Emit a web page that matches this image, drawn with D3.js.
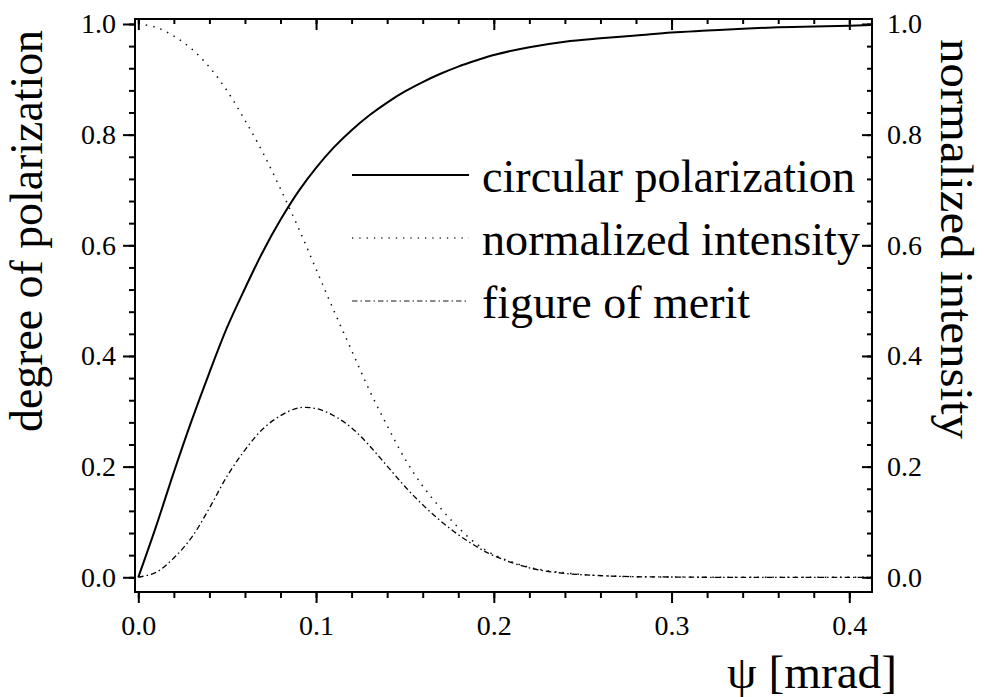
<!DOCTYPE html>
<html>
<head>
<meta charset="utf-8">
<script src="https://cdn.jsdelivr.net/npm/d3@7"></script>
</head>
<body style="margin:0;padding:0;background:#fff">
<svg id="fig" width="984" height="697"></svg>
<script>
// ---- data ----
const psi       = [0,0.01,0.02,0.03,0.04,0.05,0.06,0.07,0.08,0.09,0.10,0.11,0.12,0.13,0.14,0.15,0.16,0.17,0.18,0.19,0.20,0.22,0.24,0.26,0.28,0.30,0.32,0.34,0.36,0.38,0.40,0.412];
const circPol   = [0,0.092,0.19,0.283,0.37,0.452,0.522,0.588,0.646,0.697,0.740,0.777,0.808,0.835,0.858,0.878,0.895,0.910,0.923,0.934,0.944,0.958,0.968,0.974,0.979,0.9845,0.988,0.9915,0.994,0.9955,0.997,0.998];
const intensity = [1.0,0.994,0.978,0.955,0.922,0.879,0.826,0.768,0.702,0.632,0.557,0.482,0.410,0.338,0.274,0.214,0.165,0.125,0.090,0.061,0.041,0.018,0.008,0.003,0.001,0.0005,0,0,0,0,0,0];
const merit     = [0,0.009,0.035,0.072,0.125,0.183,0.230,0.268,0.292,0.306,0.305,0.292,0.270,0.238,0.201,0.164,0.131,0.102,0.077,0.056,0.039,0.017,0.007,0.003,0.001,0.0005,0,0,0,0,0,0];

const xMajor = [0.0,0.1,0.2,0.3,0.4];
const xMajorLabels = ["0.0","0.1","0.2","0.3","0.4"];
const yMajor = [0.0,0.2,0.4,0.6,0.8,1.0];
const yMajorLabels = ["0.0","0.2","0.4","0.6","0.8","1.0"];
const xMinor = d3.range(0, 21).map(i => i * 0.02);
const yMinor = d3.range(0, 26).map(i => i * 0.04);

const seriesNames = ["circular polarization", "normalized intensity", "figure of merit"];
const xTitle = "ψ [mrad]";
const yTitleLeft = "degree of polarization";
const yTitleRight = "normalized intensity";

// ---- layout ----
const L = 135, R = 872, T = 19, B = 592;
const SERIF = '"Liberation Serif"';

const x = d3.scaleLinear().domain([-0.00186, 0.41277]).range([L, R]);
const y = d3.scaleLinear().domain([-0.0266, 1.009]).range([B, T]);

const svg = d3.select("#fig");

// curves
const styles = [
  { w: 2.0, dash: null, color: "#000" },
  { w: 1.5, dash: "1.5,6", color: "#111" },
  { w: 1.3, dash: "5.5,3,1.5,3", color: "#000" }
];
const seriesData = [circPol, intensity, merit];

const line = d3.line()
  .x(d => x(d[0]))
  .y(d => y(d[1]))
  .curve(d3.curveCatmullRom.alpha(0.5));

svg.append("clipPath").attr("id", "clipArea")
  .append("rect").attr("x", L).attr("y", T).attr("width", R - L).attr("height", B - T);

const plot = svg.append("g").attr("clip-path", "url(#clipArea)");
seriesData.forEach((vals, i) => {
  plot.append("path")
    .datum(psi.map((p, j) => [p, vals[j]]))
    .attr("d", line)
    .attr("fill", "none")
    .attr("stroke", styles[i].color)
    .attr("stroke-width", styles[i].w)
    .attr("stroke-dasharray", styles[i].dash)
    .attr("stroke-linejoin", "round");
});

function serif(sel, size) {
  sel.attr("font-family", "Liberation Serif")
     .style("font-family", SERIF, "important")
     .style("font-size", size + "px", "important")
     .attr("fill", "#000");
}

// axes
function styleAxis(g) {
  g.attr("font-family", "Liberation Serif");
  g.select(".domain").remove();
  g.selectAll(".tick line").attr("stroke", "#000").attr("stroke-width", 2);
  g.selectAll(".tick text").call(serif, 28);
}

// bottom
const gB = svg.append("g").attr("transform", `translate(0,${B})`);
gB.append("g").call(d3.axisBottom(x).tickValues(xMinor).tickSize(6).tickFormat("")).call(styleAxis);
gB.append("g").call(d3.axisBottom(x).tickValues(xMajor).tickSize(11)
  .tickFormat((d, i) => xMajorLabels[i]).tickPadding(12)).call(styleAxis);

// top (inward)
const gT = svg.append("g").attr("transform", `translate(0,${T})`);
gT.append("g").call(d3.axisBottom(x).tickValues(xMinor).tickSize(5).tickFormat("")).call(styleAxis);
gT.append("g").call(d3.axisBottom(x).tickValues(xMajor).tickSize(11).tickFormat("")).call(styleAxis);

// left
const gL = svg.append("g").attr("transform", `translate(${L},0)`);
gL.append("g").call(d3.axisLeft(y).tickValues(yMinor).tickSize(6).tickFormat("")).call(styleAxis);
gL.append("g").call(d3.axisLeft(y).tickValues(yMajor).tickSize(12)
  .tickFormat((d, i) => yMajorLabels[i]).tickPadding(7)).call(styleAxis);

// right (ticks inward, labels outside)
const gR = svg.append("g").attr("transform", `translate(${R},0)`);
gR.append("g").call(d3.axisLeft(y).tickValues(yMinor).tickSize(5).tickFormat("")).call(styleAxis);
gR.append("g").call(d3.axisLeft(y).tickValues(yMajor).tickSize(10).tickFormat("")).call(styleAxis);
gR.append("g").call(d3.axisRight(y).tickValues(yMajor).tickSize(0)
  .tickFormat((d, i) => yMajorLabels[i]).tickPadding(15)).call(styleAxis);

// frame
svg.append("rect")
  .attr("x", L).attr("y", T).attr("width", R - L).attr("height", B - T)
  .attr("fill", "none").attr("stroke", "#000").attr("stroke-width", 2);

// titles
function bigText(sel, len) {
  sel.call(serif, 46)
     .attr("textLength", len).attr("lengthAdjust", "spacingAndGlyphs");
}
svg.append("text")
  .attr("transform", `translate(42,231) rotate(-90)`)
  .attr("text-anchor", "middle")
  .text(yTitleLeft).call(bigText, 402);

svg.append("text")
  .attr("transform", `translate(941,239) rotate(90)`)
  .attr("text-anchor", "middle")
  .text(yTitleRight).call(bigText, 400);

svg.append("text")
  .attr("x", 727).attr("y", 688)
  .text(xTitle).call(bigText, 170);

// legend
const legBase = [192, 255, 318];
const legLen = [373, 378, 268];
const legendStyles = [
  { w: 2.0, dash: null, color: "#000" },
  { w: 1.3, dash: "1.3,6", color: "#333" },
  { w: 1.5, dash: "5.5,3,1.5,3", color: "#666" }
];
const leg = svg.append("g");
seriesNames.forEach((name, i) => {
  leg.append("line")
    .attr("x1", 352).attr("x2", 469)
    .attr("y1", legBase[i] - 17).attr("y2", legBase[i] - 17)
    .attr("stroke", legendStyles[i].color)
    .attr("stroke-width", legendStyles[i].w)
    .attr("stroke-dasharray", legendStyles[i].dash);
  leg.append("text")
    .attr("x", 482).attr("y", legBase[i])
    .text(name).call(bigText, legLen[i]);
});
</script>
</body>
</html>
